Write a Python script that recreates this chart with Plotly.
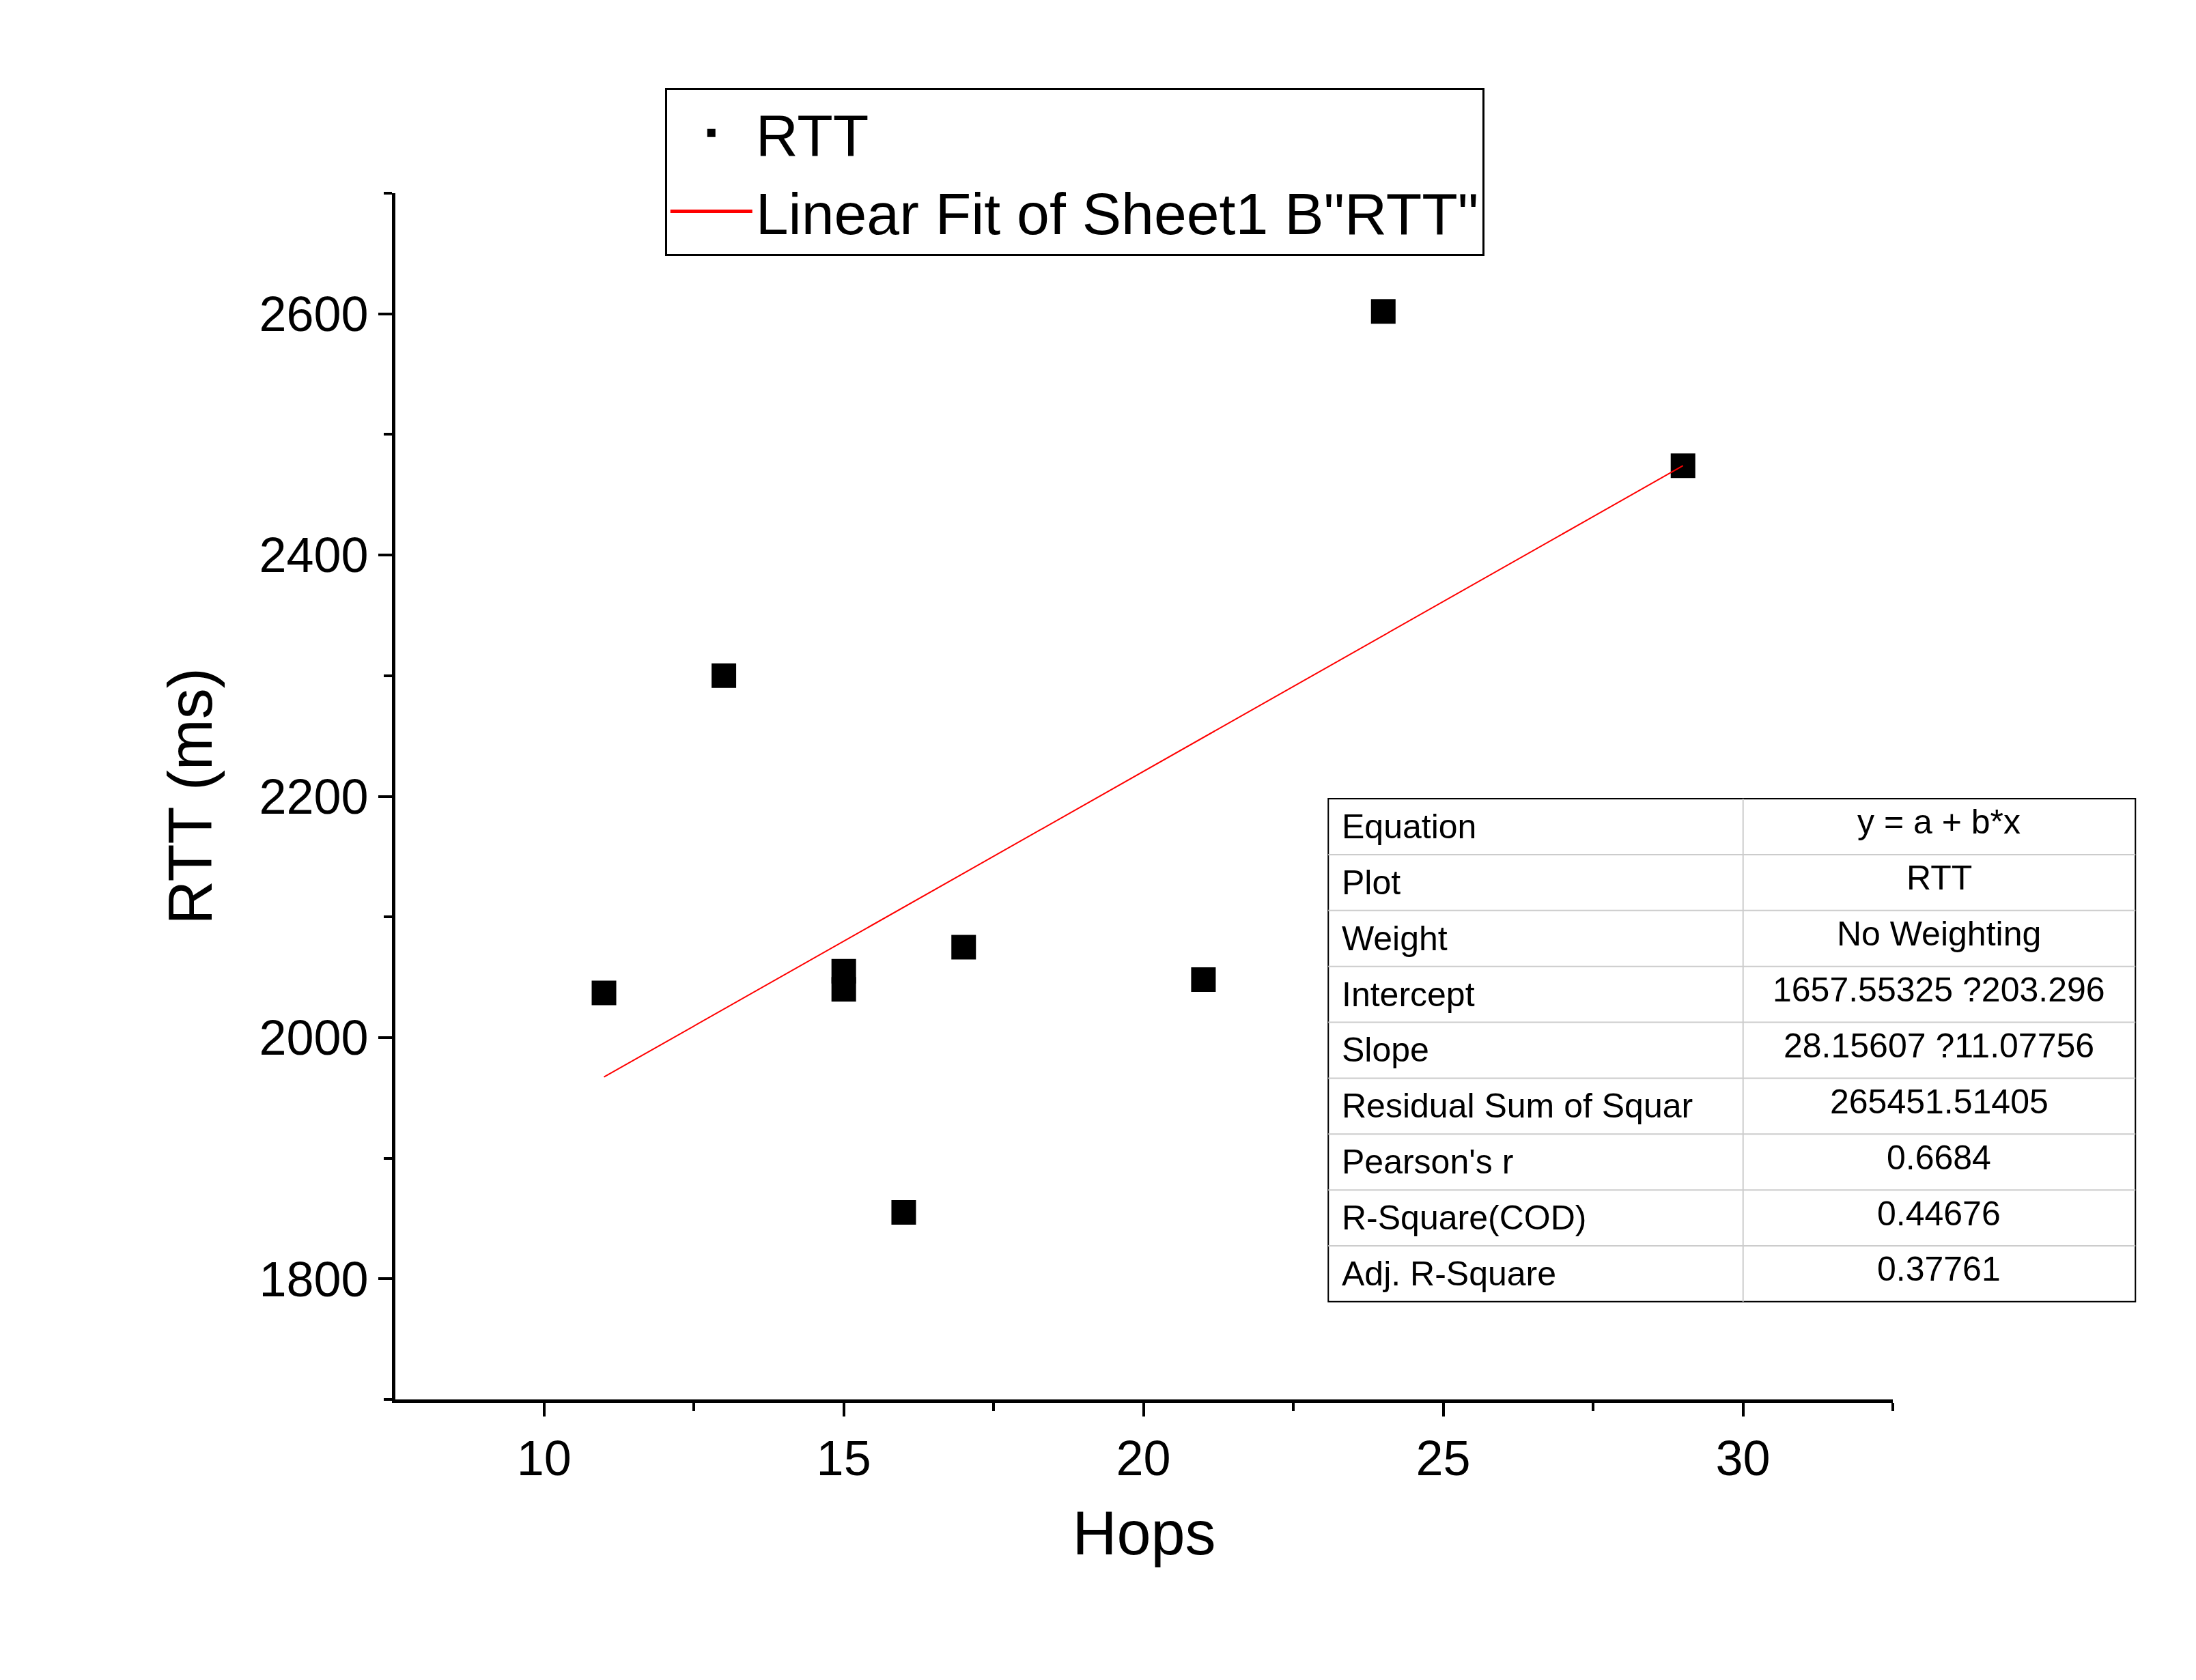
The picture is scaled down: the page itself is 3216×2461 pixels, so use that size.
import plotly.graph_objects as go

hops = [11, 13, 15, 15, 16, 17, 21, 24, 29]
rtt = [2037, 2300, 2055, 2040, 1855, 2075, 2048, 2602, 2474]
intercept = 1657.55325
slope = 28.15607
fit_x = [11, 29]
fit_y = [intercept + slope * x for x in fit_x]

row_labels = ["Equation", "Plot", "Weight", "Intercept", "Slope",
              "Residual Sum of Squar", "Pearson's r", "R-Square(COD)", "Adj. R-Square"]
row_values = ["y = a + b*x", "RTT", "No Weighting", "1657.55325 ?203.296",
              "28.15607 ?11.07756", "265451.51405", "0.6684", "0.44676", "0.37761"]

F = "Liberation Sans, Arial, sans-serif"
fig = go.Figure()
fig.add_trace(go.Scatter(x=hops, y=rtt, mode="markers", name="RTT",
                         marker=dict(symbol="square", size=36, color="black")))
fig.add_trace(go.Scatter(x=fit_x, y=fit_y, mode="lines", name='Linear Fit of Sheet1 B"RTT"',
                         line=dict(color="red", width=2)))

axis_common = dict(showline=True, linecolor="black", linewidth=5, ticks="outside",
                   ticklen=20, tickwidth=4, tickcolor="black", showgrid=False,
                   zeroline=False, mirror=False,
                   tickfont=dict(size=72, color="black", family=F),
                   minor=dict(ticks="outside", ticklen=12, tickwidth=4, tickcolor="black"))
fig.update_xaxes(range=[7.52, 32.5], tickvals=[10, 15, 20, 25, 30], **axis_common,
                 title=dict(text="Hops", font=dict(size=90, color="black", family=F), standoff=40))
fig.update_xaxes(minor_dtick=2.5, minor_tick0=0)
fig.update_yaxes(range=[1700, 2700], tickvals=[1800, 2000, 2200, 2400, 2600], **axis_common,
                 title=dict(text="RTT (ms)", font=dict(size=90, color="black", family=F), standoff=40))
fig.update_yaxes(minor_dtick=100, minor_tick0=0)

shapes = []
annotations = []
x0, x1, xm = 0.623, 1.162, 0.900
yt, yb = 0.498, 0.081
n = len(row_labels)
h = (yt - yb) / n
shapes.append(dict(type="rect", xref="paper", yref="paper", x0=x0, x1=x1, y0=yb, y1=yt,
                   line=dict(color="black", width=2), fillcolor="white"))
shapes.append(dict(type="line", xref="paper", yref="paper", x0=xm, x1=xm, y0=yb, y1=yt,
                   line=dict(color="#cccccc", width=2)))
for i in range(1, n):
    y = yt - i * h
    shapes.append(dict(type="line", xref="paper", yref="paper", x0=x0, x1=x1, y0=y, y1=y,
                       line=dict(color="#cccccc", width=2)))
for i, (lab, val) in enumerate(zip(row_labels, row_values)):
    yc = yt - (i + 0.5) * h
    annotations.append(dict(xref="paper", yref="paper", x=x0 + 0.008, y=yc, text=lab,
                            showarrow=False, xanchor="left", yanchor="middle",
                            font=dict(size=50, color="black", family=F)))
    annotations.append(dict(xref="paper", yref="paper", x=(xm + x1) / 2, y=yc + h * 0.08, text=val,
                            showarrow=False, xanchor="center", yanchor="middle",
                            font=dict(size=50, color="black", family=F)))

fig.update_layout(
    width=3216, height=2461, paper_bgcolor="white", plot_bgcolor="white",
    margin=dict(l=571, r=452, t=275, b=419),
    showlegend=True,
    legend=dict(x=0.18, y=1.087, xanchor="left", yanchor="top", bordercolor="black",
                borderwidth=3, bgcolor="white", font=dict(size=86, color="black", family=F),
                itemwidth=120, itemsizing="constant", tracegroupgap=0),
    shapes=shapes, annotations=annotations,
)
fig.write_html("out.html")
